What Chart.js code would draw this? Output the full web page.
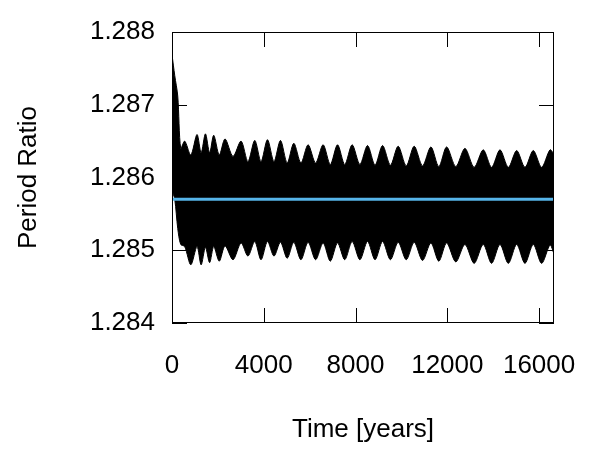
<!DOCTYPE html>
<html>
<head>
<meta charset="utf-8">
<script src="https://cdn.jsdelivr.net/npm/chart.js@4"></script>
<style>
  body { margin: 0; background: #fff; }
</style>
</head>
<body>
<canvas id="ratioChart" width="600" height="450"></canvas>
<script>
// envelope of the fast oscillation (peaks / troughs)
const years = [0, 120, 250, 380, 554, 820, 1090, 1270, 1457, 1640, 1819, 2060, 2312, 2660,
    3010, 3310, 3607, 3880, 4161, 4445, 4728, 5020, 5309, 5620, 5932, 6260, 6587, 6900,
    7215, 7530, 7852, 8190, 8523, 8850, 9178, 9520, 9858, 10210, 10556, 10920, 11285,
    11630, 11970, 12370, 12768, 13170, 13566, 13930, 14295, 14660, 15023, 15385, 15747,
    16110, 16476, 16650];

const upperRatio = [1.28769, 1.28740, 1.28712, 1.28640, 1.28650, 1.28631, 1.28659, 1.28634,
    1.28660, 1.28634, 1.28658, 1.28631, 1.28653, 1.28629, 1.28650, 1.28622, 1.28651, 1.28622,
    1.28652, 1.28622, 1.28651, 1.28620, 1.28647, 1.28620, 1.28645, 1.28620, 1.28645, 1.28618,
    1.28645, 1.28618, 1.28645, 1.28618, 1.28644, 1.28617, 1.28644, 1.28617, 1.28643, 1.28616,
    1.28643, 1.28616, 1.28642, 1.28615, 1.28642, 1.28615, 1.28640, 1.28614, 1.28638, 1.28614,
    1.28638, 1.28614, 1.28637, 1.28614, 1.28637, 1.28614, 1.28638, 1.28632];

const lowerRatio = [1.28582, 1.28570, 1.28530, 1.28508, 1.28505, 1.28480, 1.28505, 1.28480,
    1.28504, 1.28483, 1.28505, 1.28485, 1.28506, 1.28487, 1.28510, 1.28492, 1.28512, 1.28487,
    1.28512, 1.28492, 1.28511, 1.28489, 1.28511, 1.28487, 1.28511, 1.28487, 1.28510, 1.28485,
    1.28510, 1.28487, 1.28512, 1.28487, 1.28512, 1.28487, 1.28512, 1.28487, 1.28511, 1.28487,
    1.28511, 1.28486, 1.28510, 1.28485, 1.28510, 1.28484, 1.28508, 1.28482, 1.28508, 1.28482,
    1.28508, 1.28482, 1.28508, 1.28482, 1.28508, 1.28482, 1.28507, 1.28495];

const meanRatio = 1.2857;
const timeRange = [0, 16650];

const xTicks = [0, 4000, 8000, 12000, 16000];
const yTicks = [1.284, 1.285, 1.286, 1.287, 1.288];

const toPoints = vals => vals.map((v, i) => ({ x: years[i], y: v }));

// gnuplot-like frame with inward ticks on all four sides
const framePlugin = {
    id: 'frame',
    afterDraw(chart) {
        const { ctx, chartArea: a, scales } = chart;
        const len = 15;
        ctx.save();
        ctx.strokeStyle = '#000';
        ctx.lineWidth = 1;
        ctx.strokeRect(a.left + 0.5, a.top + 0.5, a.right - a.left - 1, a.bottom - a.top - 1);
        ctx.beginPath();
        xTicks.forEach(v => {
            const px = Math.round(scales.x.getPixelForValue(v)) + 0.5;
            ctx.moveTo(px, a.bottom); ctx.lineTo(px, a.bottom - len);
            ctx.moveTo(px, a.top); ctx.lineTo(px, a.top + len);
        });
        yTicks.forEach(v => {
            const py = Math.round(scales.y.getPixelForValue(v)) + 0.5;
            ctx.moveTo(a.left, py); ctx.lineTo(a.left + len, py);
            ctx.moveTo(a.right, py); ctx.lineTo(a.right - len, py);
        });
        ctx.stroke();
        ctx.restore();
    }
};

Chart.defaults.font.family = '"Liberation Sans", Arial, sans-serif';
Chart.defaults.font.size = 26;
Chart.defaults.color = '#000';

new Chart(document.getElementById('ratioChart').getContext('2d'), {
    type: 'line',
    data: {
        datasets: [
            {
                label: 'mean',
                data: timeRange.map(t => ({ x: t, y: meanRatio })),
                borderColor: '#56B4E9',
                borderWidth: 3,
                pointRadius: 0,
                fill: false,
                order: 0
            },
            {
                label: 'upper',
                data: toPoints(upperRatio),
                borderColor: '#000',
                backgroundColor: '#000',
                borderWidth: 1,
                pointRadius: 0,
                tension: 0.3,
                fill: '+1',
                order: 1
            },
            {
                label: 'lower',
                data: toPoints(lowerRatio),
                borderColor: '#000',
                borderWidth: 1,
                pointRadius: 0,
                tension: 0.3,
                fill: false,
                order: 2
            }
        ]
    },
    options: {
        responsive: false,
        animation: false,
        layout: { padding: { top: 32, right: 46, left: 0, bottom: 0 } },
        plugins: {
            legend: { display: false },
            tooltip: { enabled: false }
        },
        scales: {
            x: {
                type: 'linear',
                min: timeRange[0],
                max: timeRange[1],
                grid: { display: false, drawTicks: false },
                border: { display: false },
                afterBuildTicks: s => { s.ticks = xTicks.map(v => ({ value: v })); },
                afterFit: s => { s.height = 127; s.paddingLeft = 0; s.paddingRight = 0; },
                ticks: { padding: 27, maxRotation: 0, callback: v => String(v) },
                title: { display: true, text: 'Time [years]', padding: { top: 0, bottom: 5 } }
            },
            y: {
                type: 'linear',
                min: 1.284,
                max: 1.288,
                grid: { display: false, drawTicks: false },
                border: { display: false },
                afterBuildTicks: s => { s.ticks = yTicks.map(v => ({ value: v })); },
                afterFit: s => { s.width = 172; s.paddingTop = 0; s.paddingBottom = 0; },
                ticks: { padding: 17, callback: v => v.toFixed(3) },
                title: { display: true, text: 'Period Ratio', padding: { top: 13, bottom: 0 } }
            }
        }
    },
    plugins: [framePlugin]
});
</script>
</body>
</html>
